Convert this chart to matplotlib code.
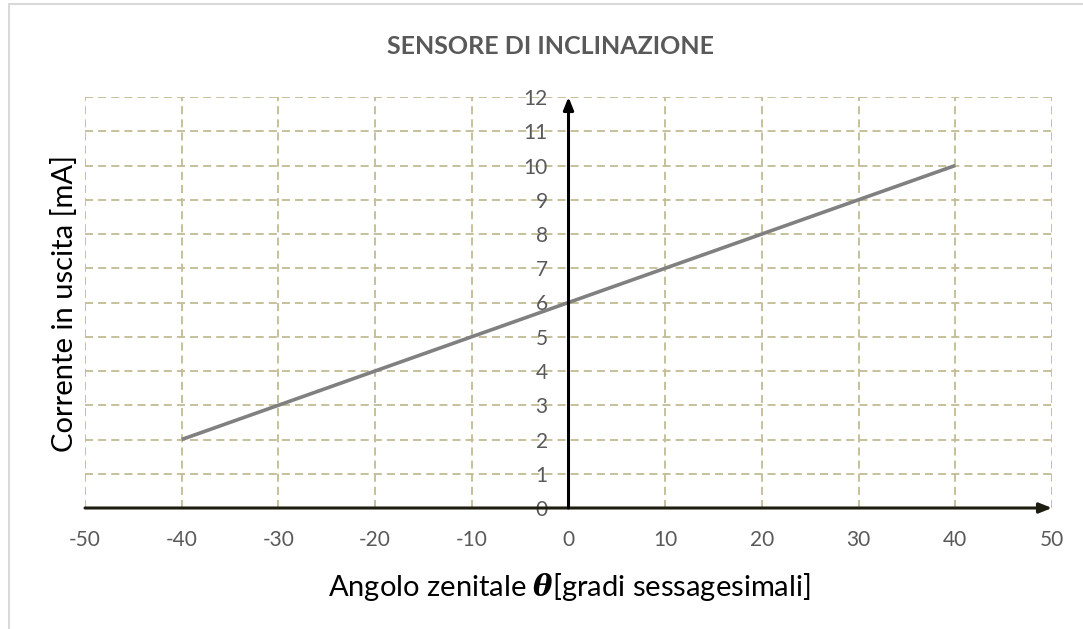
import numpy as np
import matplotlib
matplotlib.use("Agg")
import matplotlib.pyplot as plt
from matplotlib.patches import Rectangle

# data
angles = [-40, -30, -20, -10, 0, 10, 20, 30, 40]
current = [2, 3, 4, 5, 6, 7, 8, 9, 10]
x_ticks = list(range(-50, 51, 10))
y_ticks = list(range(0, 13))

plt.rcParams['font.family'] = ['Lato', 'DejaVu Sans']
plt.rcParams['axes.unicode_minus'] = False
plt.rcParams['mathtext.fontset'] = 'dejavuserif'

fig = plt.figure(figsize=(10.83, 6.29), dpi=100)
# light frame around the chart
fig.patches.append(Rectangle((9 / 1083, -0.1), 1.2, 1 - 4 / 629 + 0.1,
                             transform=fig.transFigure, fill=False,
                             edgecolor='#d9d9d9', linewidth=1.5))

ax = fig.add_axes([85 / 1083, 121 / 629, (1052 - 85) / 1083, (532 - 121) / 629])
ax.set_xlim(-50, 50)
ax.set_ylim(0, 12)

# grid
grid_color = '#c4bd97'
for gx in x_ticks:
    if gx != 0:
        ax.axvline(gx, color=grid_color, lw=1.35, dashes=(4.3, 2.7), zorder=0)
for gy in y_ticks[1:]:
    ax.axhline(gy, color=grid_color, lw=1.35, dashes=(4.3, 2.7), zorder=0)

# series
ax.plot(angles, current, color='#808080', lw=2.6, solid_capstyle='butt', zorder=3)

# axes through the origin with arrow heads
for s in ['top', 'right', 'left', 'bottom']:
    ax.spines[s].set_visible(False)
ax.spines['left'].set_position(('data', 0))
ax.annotate('', xy=(50, 0), xytext=(-50, 0), annotation_clip=False,
            arrowprops=dict(arrowstyle='-|>,head_length=0.75,head_width=0.3',
                            color='#1c1c10', lw=2.2, shrinkA=0, shrinkB=0), zorder=4)
ax.annotate('', xy=(0, 12), xytext=(0, 0), annotation_clip=False,
            arrowprops=dict(arrowstyle='-|>,head_length=0.75,head_width=0.3',
                            color='black', lw=2.2, shrinkA=0, shrinkB=0), zorder=4)

ax.set_xticks(x_ticks)
ax.set_yticks(y_ticks)
ax.tick_params(axis='both', length=0, labelsize=15, labelcolor='#595959')
ax.tick_params(axis='x', pad=16)
ax.tick_params(axis='y', pad=15)

fig.text(0.508, 1 - 47 / 629, 'SENSORE DI INCLINAZIONE', ha='center', va='center',
         fontsize=18, fontweight='bold', color='#595959')
fig.text(569 / 1083, 1 - 587 / 629,
         r'Angolo zenitale $\boldsymbol{\theta}$[gradi sessagesimali]',
         ha='center', va='center', fontsize=21, color='black')
fig.text(65 / 1083, 1 - 304 / 629, 'Corrente in uscita [mA]', rotation=90,
         ha='center', va='center', fontsize=21, color='black')

fig.savefig('out.png', dpi=100)
